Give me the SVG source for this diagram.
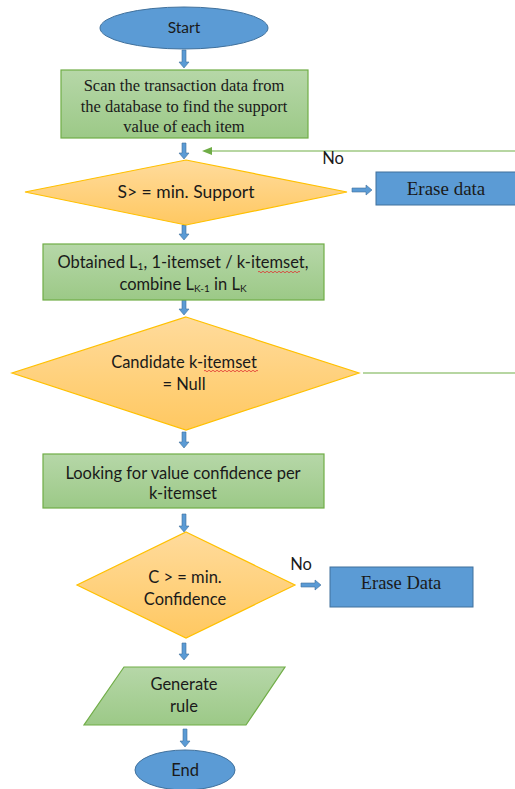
<svg xmlns="http://www.w3.org/2000/svg" width="515" height="789" viewBox="0 0 515 789">
<style>
.term{fill:#5B9BD5;stroke:#41719C;stroke-width:1}
.proc{fill:url(#gGreen);stroke:#70AD47;stroke-width:1.2}
.dec{fill:url(#gOrange);stroke:#FFC000;stroke-width:1.2}
.erase{fill:#5B9BD5;stroke:#41719C;stroke-width:1}
.ba{fill:#5B9BD5;stroke:#41719C;stroke-width:0.6}
.sans{font-family:Lato,"Open Sans","Liberation Sans",sans-serif;font-size:16.5px;fill:#1a1a1a;text-anchor:middle}
.serif{font-family:"Liberation Serif","Times New Roman",serif;font-size:16.5px;fill:#1a1a1a;text-anchor:middle}
.big{font-size:19px}
.sub{font-size:10px}
.gl{stroke:#70AD47;stroke-width:1.2;fill:none}
.sq{stroke:#E03030;stroke-width:0.8;fill:none}
</style>
<defs>
<linearGradient id="gGreen" x1="0" y1="0" x2="0" y2="1"><stop offset="0" stop-color="#B6D7A8"/><stop offset="1" stop-color="#9CC987"/></linearGradient>
<linearGradient id="gOrange" x1="0" y1="0" x2="0" y2="1"><stop offset="0" stop-color="#FFDB9C"/><stop offset="1" stop-color="#FFC861"/></linearGradient>
</defs>

<g id="connectors">
<path class="ba" d="M182,50 h4 v12 h3 l-5,6 l-5,-6 h3 z"/>
<path class="ba" d="M182,143 h4 v10 h3 l-5,6 l-5,-6 h3 z"/>
<path class="ba" d="M182,225 h4 v9 h3 l-5,6 l-5,-6 h3 z"/>
<path class="ba" d="M182,300 h4 v9 h3 l-5,6 l-5,-6 h3 z"/>
<path class="ba" d="M182,432 h4 v10 h3 l-5,6 l-5,-6 h3 z"/>
<path class="ba" d="M182,514 h4 v12 h3 l-5,6 l-5,-6 h3 z"/>
<path class="ba" d="M182,643 h4 v11 h3 l-5,6 l-5,-6 h3 z"/>
<path class="ba" d="M183,729 h4 v12 h3 l-5,6 l-5,-6 h3 z"/>
<path class="ba" d="M352,188 h14 v-3 l6,5 l-6,5 v-3 h-14 z"/>
<path class="ba" d="M301,583 h14 v-3 l6,5 l-6,5 v-3 h-14 z"/>
<line class="gl" x1="515" y1="151" x2="212" y2="151"/>
<path d="M212,147 L202,151 L212,155 Z" fill="#70AD47"/>
<line class="gl" x1="363" y1="373" x2="515" y2="373"/>
<text class="sans" x="333" y="164">No</text>
<text class="sans" x="301" y="570">No</text>
</g>

<g id="start">
<ellipse class="term" cx="184" cy="28" rx="84" ry="21"/>
<text class="sans" x="184" y="33" style="font-size:15.5px">Start</text>
</g>

<g id="scan">
<rect class="proc" x="61" y="70" width="247" height="68"/>
<text class="serif" x="184" y="91">Scan the transaction data from</text>
<text class="serif" x="184" y="112">the database to find the support</text>
<text class="serif" x="184" y="132">value of each item</text>
</g>

<g id="support">
<polygon class="dec" points="186,160 347,192 186,225 25,192"/>
<text class="sans" x="186" y="198" style="font-size:17.5px">S&gt; = min. Support</text>
</g>

<g id="erase1">
<rect class="erase" x="376" y="172" width="142" height="33"/>
<text class="serif big" x="446" y="195">Erase data</text>
</g>

<g id="obtain">
<rect class="proc" x="43" y="244" width="281" height="56"/>
<text class="sans" x="183" y="268">Obtained L<tspan class="sub" dy="2">1</tspan><tspan dy="-2">, 1-itemset / k-itemset,</tspan></text>
<text class="sans" x="183" y="290">combine L<tspan class="sub" dy="2">K-1</tspan><tspan dy="-2"> in L</tspan><tspan class="sub" dy="2">K</tspan></text>
<path class="sq" d="M258,272 q1,-1.5 2,0 t2,0 t2,0 t2,0 t2,0 t2,0 t2,0 t2,0 t2,0 t2,0 t2,0 t2,0 t2,0 t2,0 t2,0 t2,0 t2,0 t2,0 t2,0 t2,0 t2,0"/>
</g>

<g id="candidate">
<polygon class="dec" points="186,317 359,373 186,430 12,373"/>
<text class="sans" x="184" y="368">Candidate k-itemset</text>
<text class="sans" x="184" y="390">= Null</text>
<path class="sq" d="M204,371 q1,-1.5 2,0 t2,0 t2,0 t2,0 t2,0 t2,0 t2,0 t2,0 t2,0 t2,0 t2,0 t2,0 t2,0 t2,0 t2,0 t2,0 t2,0 t2,0 t2,0 t2,0 t2,0 t2,0 t2,0 t2,0 t2,0 t2,0 t2,0"/>
</g>

<g id="looking">
<rect class="proc" x="43" y="454" width="281" height="54"/>
<text class="sans" x="183" y="479">Looking for value confidence per</text>
<text class="sans" x="183" y="499">k-itemset</text>
</g>

<g id="confidence">
<polygon class="dec" points="186,532 295,585 186,638 77,585"/>
<text class="sans" x="185" y="583">C &gt; = min.</text>
<text class="sans" x="185" y="605">Confidence</text>
</g>

<g id="erase2">
<rect class="erase" x="330" y="567" width="143" height="40"/>
<text class="serif" x="401" y="589" style="font-size:18.5px">Erase Data</text>
</g>

<g id="generate">
<polygon class="proc" points="124,667 285,667 246,725 84,725"/>
<text class="sans" x="184" y="690">Generate</text>
<text class="sans" x="184" y="712">rule</text>
</g>

<g id="end">
<ellipse class="term" cx="185" cy="770" rx="50" ry="20"/>
<text class="sans" x="185" y="776">End</text>
</g>
</svg>
